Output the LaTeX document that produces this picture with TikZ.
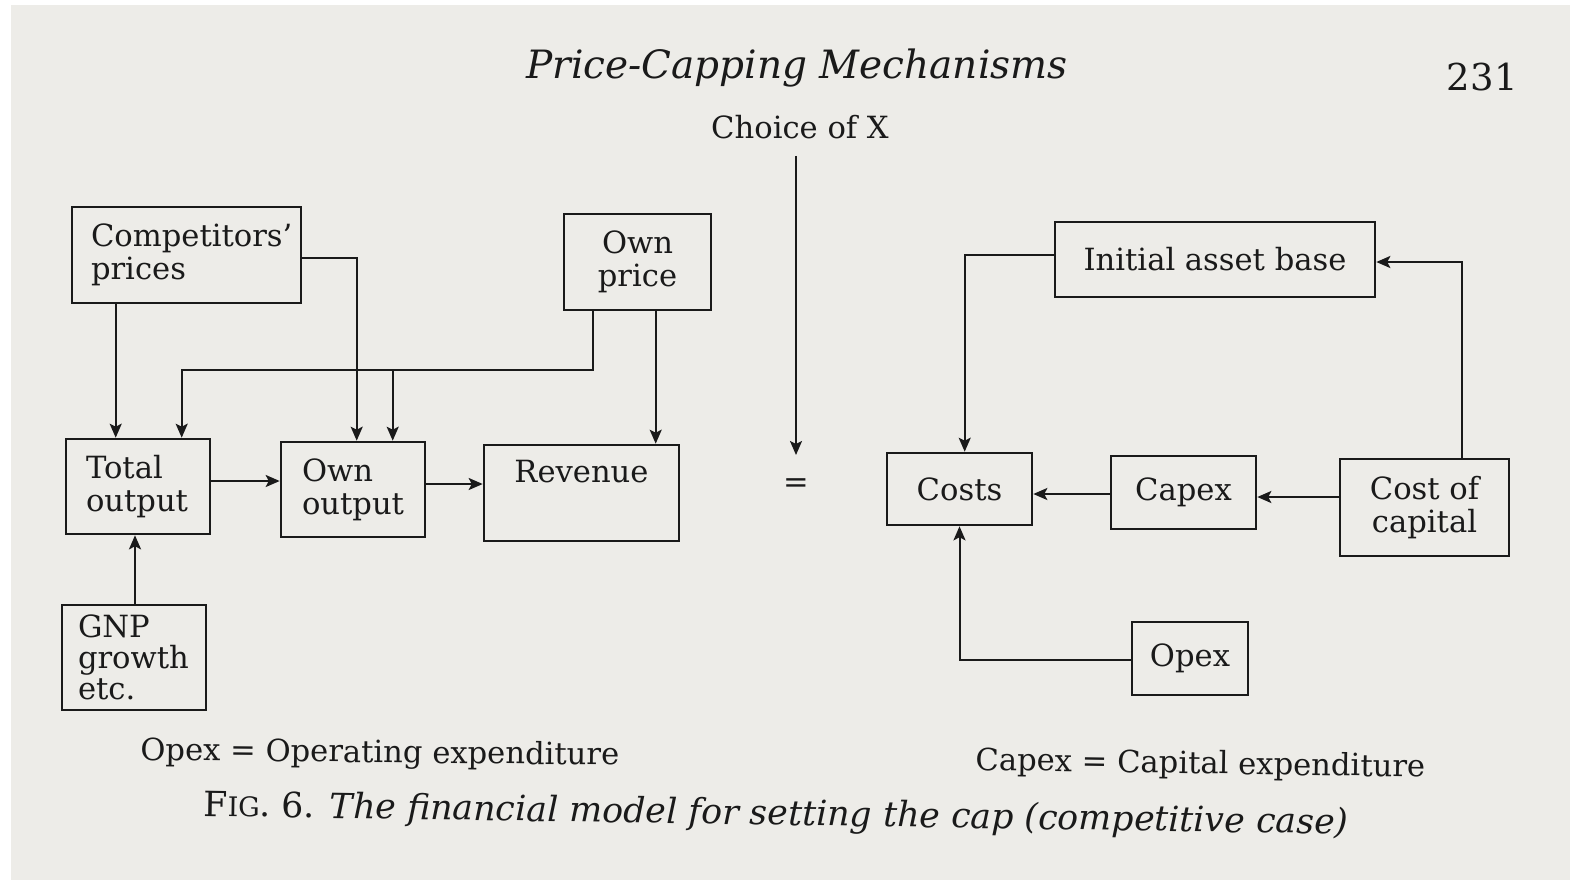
\documentclass[tikz,border=0pt]{standalone}
\usepackage{fontspec}
\setmainfont{DejaVu Serif}
\usetikzlibrary{arrows.meta}
\definecolor{paper}{HTML}{EDECE8}
\definecolor{ink}{HTML}{1A1A1A}
\newcommand{\fakesc}[2]{#1{\fontsize{13.5}{13.5}\selectfont #2}}
\tikzset{
  box/.style={draw=ink, line width=1.3pt, inner sep=0pt, text=ink,
    font=\fontsize{15.3}{16.5}\selectfont},
  lbox/.style={box, align=left},
  cbox/.style={box, align=center},
  link/.style={draw=ink, line width=1pt},
  arr/.style={link, -{Stealth[length=7pt,width=6pt,inset=1.5pt]}},
  plain/.style={inner sep=0pt, text=ink, font=\fontsize{15.3}{15.3}\selectfont}
}
\begin{document}
\begin{tikzpicture}[x=0.5pt,y=-0.5pt]
% sheet
\fill[paper] (0,0) rectangle (1570,880);
\fill[white] (0,0) rectangle (11,880);
\fill[white] (0,0) rectangle (1570,5);
\useasboundingbox (0,0) rectangle (1570,880);

% running head
\node[plain, anchor=base, font=\fontsize{19.5}{19.5}\selectfont\itshape] (hdr) at (797,78) {Price-Capping Mechanisms};
\node[plain, anchor=base east, font=\fontsize{18.5}{18.5}\selectfont] (pg) at (1518,90) {231};

% demand side
\node[lbox, minimum width=114.5pt, minimum height=48pt, text width=95.5pt, inner xsep=9.5pt] (comp) at (186.5,255) {Competitors'\\prices};
\node[cbox, minimum width=73.5pt, minimum height=48pt] (price) at (637.5,262) {Own\\price};
\node[lbox, minimum width=72pt, minimum height=47.5pt, text width=52pt, inner xsep=10pt] (tot) at (138,486.5) {Total\\output};
\node[lbox, minimum width=72pt, minimum height=47.5pt, text width=51pt, inner xsep=10.5pt] (own) at (353,489.5) {Own\\output};
\node[cbox, minimum width=97.5pt, minimum height=48pt] (rev) at (581.5,493) {Revenue\\\strut};
\node[lbox, minimum width=72pt, minimum height=52.5pt, text width=56pt, inner xsep=8pt, font=\fontsize{15.3}{15.5}\selectfont] (gnp) at (134,657.5) {GNP\\growth\\etc.};

% cost side
\node[cbox, minimum width=160pt, minimum height=37.5pt] (iab) at (1215,259.5) {Initial asset base};
\node[cbox, minimum width=72.5pt, minimum height=36pt] (costs) at (959.5,489) {Costs};
\node[cbox, minimum width=72.5pt, minimum height=36.5pt] (capex) at (1183.5,492.5) {Capex};
\node[cbox, minimum width=84.5pt, minimum height=48.5pt] (coc) at (1424.5,507.5) {Cost of\\capital};
\node[cbox, minimum width=58pt, minimum height=36.5pt] (opex) at (1190,658.5) {Opex};

% choice of X
\node[plain, anchor=base] (choice) at (800,138) {Choice of X};
\node[plain] (eq) at (796,486) {=};
\draw[arr, shorten <=8.5pt] (choice.south -| eq) -- ([yshift=15.5pt]eq.center);

% demand-side links
\draw[arr] ([xshift=22.5pt]comp.south west) coordinate (c1) -- (c1 |- tot.north);
\draw[arr] ([yshift=-1.5pt]comp.east) -| ([xshift=38.5pt]own.north west);
\coordinate (bus) at (0,370);
\coordinate (ob) at ([xshift=56.5pt]own.north west);
\draw[arr] ([xshift=15pt]price.south west) coordinate (p1) -- (p1 |- bus) -| ([xshift=58.5pt]tot.north west);
\draw[arr] (bus -| ob) -- (ob);
\draw[arr] ([xshift=46.5pt]price.south west) coordinate (p2) -- (p2 |- rev.north);
\draw[arr] ([yshift=2.75pt]tot.east) coordinate (t2) -- (t2 -| own.west);
\draw[arr] ([yshift=2.75pt]own.east) coordinate (o2) -- (o2 -| rev.west);
\draw[arr] ([xshift=0.5pt]gnp.north) coordinate (g2) -- (g2 |- tot.south);

% cost-side links
\draw[arr] ([yshift=2.25pt]iab.west) -| ([xshift=39.5pt]costs.north west);
\draw[arr] ([xshift=61.5pt]coc.north west) |- ([yshift=-1.25pt]iab.east);
\draw[arr] ([yshift=5.25pt]coc.west) coordinate (k2) -- (k2 -| capex.east);
\draw[arr] ([yshift=-0.75pt]capex.west) coordinate (x2) -- (x2 -| costs.east);
\draw[arr] ([yshift=-0.75pt]opex.west) -| (costs.south);

% legend and caption
\node[plain, anchor=base west, rotate=-0.6] (opexkey) at (140,760) {Opex = Operating expenditure};
\node[plain, anchor=base west, rotate=-0.9] (capexkey) at (975,770) {Capex = Capital expenditure};
\node[plain, anchor=base west, rotate=-0.9, font=\fontsize{17.4}{17.4}\selectfont] (cap) at (203,816) {\fakesc{F}{IG}. 6. \itshape The financial model for setting the cap (competitive case)};
\end{tikzpicture}
\end{document}
